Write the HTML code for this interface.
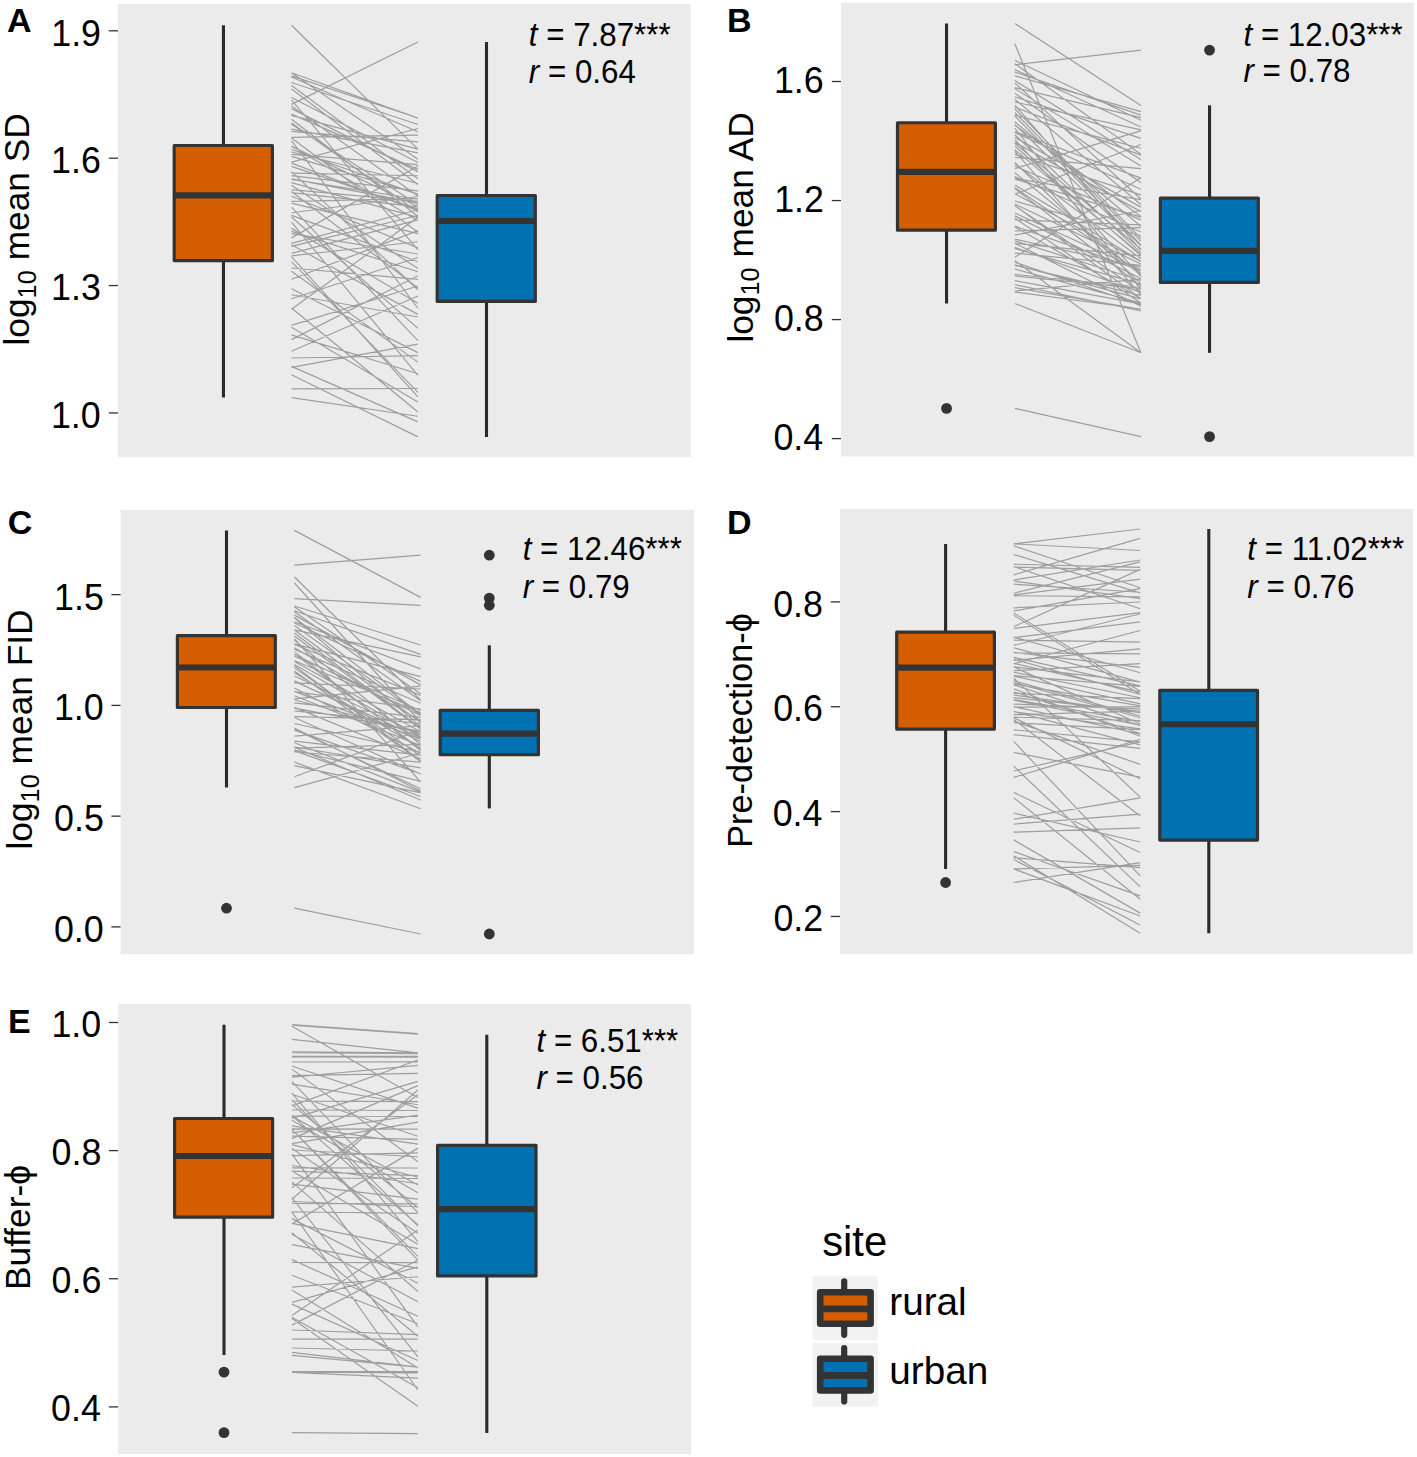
<!DOCTYPE html>
<html><head><meta charset="utf-8"><title>Boxplots</title><style>
html,body{margin:0;padding:0;background:#fff;width:1417px;height:1457px;overflow:hidden}
svg{display:block;position:absolute;left:0;top:0}
text{font-family:"Liberation Sans", sans-serif;fill:#000}
.tk{font-size:35.8px}
.an{font-size:31.3px}
.ti{font-size:35.3px}
.lb{font-size:34.0px;font-weight:bold}
.lg{font-size:38.7px}
.lgt{font-size:41.8px}
</style></head><body>
<svg width="1417" height="1457" viewBox="0 0 1417 1457"><rect x="118" y="4" width="572.8" height="453.2" fill="#EBEBEB"/>
<line x1="108.8" y1="30.8" x2="118" y2="30.8" stroke="#333333" stroke-width="1.3"/>
<text transform="translate(101,45.65) scale(1,1.05)" text-anchor="end" class="tk">1.9</text>
<line x1="108.8" y1="158.2" x2="118" y2="158.2" stroke="#333333" stroke-width="1.3"/>
<text transform="translate(100.87,173.05) scale(1,1.05)" text-anchor="end" class="tk">1.6</text>
<line x1="108.8" y1="285.55" x2="118" y2="285.55" stroke="#333333" stroke-width="1.3"/>
<text transform="translate(100.87,300.4) scale(1,1.05)" text-anchor="end" class="tk">1.3</text>
<line x1="108.8" y1="412.95" x2="118" y2="412.95" stroke="#333333" stroke-width="1.3"/>
<text transform="translate(100.7,427.8) scale(1,1.05)" text-anchor="end" class="tk">1.0</text>
<path d="M291.5 388.92L417.9 388.49M291.5 217.01L417.9 328.34M291.5 185.32L417.9 268.5M291.5 99.8L417.9 249.91M291.5 140.54L417.9 308.25M291.5 271.34L417.9 362.13M291.5 279.27L417.9 230.67M291.5 75.94L417.9 118M291.5 124.32L417.9 204.57M291.5 82.53L417.9 124.54M291.5 72.7L417.9 159.22M291.5 308.04L417.9 411.94M291.5 163.1L417.9 210.75M291.5 156.44L417.9 194.03M291.5 146.04L417.9 220.77M291.5 149.54L417.9 194.34M291.5 189.64L417.9 201.35M291.5 191.56L417.9 287.88M291.5 366.35L417.9 421.84M291.5 233.69L417.9 254M291.5 294.72L417.9 316.98M291.5 196.23L417.9 247.83M291.5 246.44L417.9 215.53M291.5 137.37L417.9 135.06M291.5 119.2L417.9 216.27M291.5 175.7L417.9 190.78M291.5 173.19L417.9 175.77M291.5 201.28L417.9 198.58M291.5 243.38L417.9 209.77M291.5 231.4L417.9 271.73M291.5 253.37L417.9 219.9M291.5 162.07L417.9 128.5M291.5 212.77L417.9 196.5M291.5 137.91L417.9 232.34M291.5 351.3L417.9 296.02M291.5 115.44L417.9 149.12M291.5 298.73L417.9 257.51M291.5 288.79L417.9 352.61M291.5 237.87L417.9 166.02M291.5 261.68L417.9 392.3M291.5 179.29L417.9 199.26M291.5 268.02L417.9 279.4M291.5 327.31L417.9 402.01M291.5 309.25L417.9 217.34M291.5 97.45L417.9 162.54M291.5 207.21L417.9 340.67M291.5 339.65L417.9 275.7M291.5 215.43L417.9 261.71M291.5 374.81L417.9 436.9M291.5 85.41L417.9 178.72M291.5 367.43L417.9 344.18M291.5 151.98L417.9 183.48M291.5 146.39L417.9 206.42M291.5 358L417.9 355.63M291.5 178.8L417.9 203.18M291.5 105.89L417.9 196.01M291.5 154.46L417.9 164.69M291.5 182.7L417.9 217.33M291.5 114.17L417.9 169.34M291.5 192.61L417.9 206.84M291.5 171.66L417.9 289.75M291.5 228.36L417.9 303.24M291.5 131.39L417.9 141.91M291.5 325.43L417.9 286.02M291.5 123.05L417.9 212.11M291.5 255.8L417.9 241.73M291.5 334.82L417.9 373.71M291.5 166.39L417.9 209.18M291.5 89L417.9 184.43M291.5 108.65L417.9 171.59M291.5 256.63L417.9 396.93M291.5 129.14L417.9 152.95M291.5 244.75L417.9 314.36M291.5 222.1L417.9 375.4M291.5 203.06L417.9 233.7M291.5 397.6L417.9 416.25M291.5 25.2L417.9 149.1M291.5 104.4L417.9 42M291.5 72.7L417.9 118.1M291.5 77L417.9 131.8" stroke="#9E9E9E" stroke-width="1.2" fill="none"/>
<line x1="223.45" y1="25.2" x2="223.45" y2="397.6" stroke="#2A2A2A" stroke-width="3.1"/>
<rect x="174.2" y="145.5" width="98.2" height="115.2" fill="#D55E00" stroke="#333333" stroke-width="3.2" stroke-linejoin="round"/>
<line x1="174.2" y1="195.4" x2="272.4" y2="195.4" stroke="#333333" stroke-width="6.1"/>
<line x1="486.5" y1="42" x2="486.5" y2="436.9" stroke="#2A2A2A" stroke-width="3.1"/>
<rect x="437.2" y="195.5" width="98.1" height="105.9" fill="#0072B2" stroke="#333333" stroke-width="3.2" stroke-linejoin="round"/>
<line x1="437.2" y1="221" x2="535.3" y2="221" stroke="#333333" stroke-width="6.1"/>
<text transform="translate(528.8,45.5) scale(1,1.04)" class="an"><tspan font-style="italic">t</tspan> = 7.87***</text>
<text transform="translate(528.8,82.75) scale(1,1.04)" class="an"><tspan font-style="italic">r</tspan> = 0.64</text>
<text transform="translate(29.1,229.35) rotate(-90)" text-anchor="middle" class="ti" style="font-size:35.3px">log<tspan font-size="25.4" dy="6.85">10</tspan><tspan dy="-6.85"> mean SD</tspan></text>
<text x="7.1" y="31.76" class="lb">A</text>
<rect x="841" y="2.7" width="572.9" height="453.8" fill="#EBEBEB"/>
<line x1="831.8" y1="81.5" x2="841" y2="81.5" stroke="#333333" stroke-width="1.3"/>
<text transform="translate(823.67,92.85) scale(1,1.05)" text-anchor="end" class="tk">1.6</text>
<line x1="831.8" y1="200.55" x2="841" y2="200.55" stroke="#333333" stroke-width="1.3"/>
<text transform="translate(823.9,211.9) scale(1,1.05)" text-anchor="end" class="tk">1.2</text>
<line x1="831.8" y1="319.6" x2="841" y2="319.6" stroke="#333333" stroke-width="1.3"/>
<text transform="translate(823.66,330.95) scale(1,1.05)" text-anchor="end" class="tk">0.8</text>
<line x1="831.8" y1="438.6" x2="841" y2="438.6" stroke="#333333" stroke-width="1.3"/>
<text transform="translate(823.15,449.95) scale(1,1.05)" text-anchor="end" class="tk">0.4</text>
<path d="M1014.8 157.24L1140.9 168.61M1014.8 275.92L1140.9 288.69M1014.8 96.77L1140.9 138.36M1014.8 82.86L1140.9 199.03M1014.8 166.21L1140.9 219.88M1014.8 149.79L1140.9 254.41M1014.8 168.58L1140.9 130.88M1014.8 292L1140.9 308.99M1014.8 137.32L1140.9 207.14M1014.8 274.36L1140.9 287.27M1014.8 264.76L1140.9 298.92M1014.8 121.7L1140.9 226.32M1014.8 88.62L1140.9 166.04M1014.8 253.1L1140.9 265.39M1014.8 80.42L1140.9 159.42M1014.8 72.06L1140.9 115.11M1014.8 142.37L1140.9 211.64M1014.8 163.55L1140.9 258.81M1014.8 139.54L1140.9 276.36M1014.8 205.7L1140.9 291.69M1014.8 247.42L1140.9 292.53M1014.8 108.75L1140.9 238.36M1014.8 101.98L1140.9 129.92M1014.8 226.11L1140.9 270.48M1014.8 212.99L1140.9 270.14M1014.8 226.9L1140.9 298.59M1014.8 239.05L1140.9 267.25M1014.8 265.38L1140.9 295.33M1014.8 287.66L1140.9 309.41M1014.8 93.13L1140.9 182.71M1014.8 194.28L1140.9 144.46M1014.8 146.04L1140.9 255.61M1014.8 69.62L1140.9 126.96M1014.8 219.81L1140.9 224.82M1014.8 115.11L1140.9 148.29M1014.8 280.6L1140.9 303.83M1014.8 230.82L1140.9 227.63M1014.8 105.08L1140.9 250.09M1014.8 187.71L1140.9 272.92M1014.8 284.72L1140.9 311M1014.8 291.04L1140.9 279.18M1014.8 125.16L1140.9 216.56M1014.8 257.32L1140.9 177.79M1014.8 107.22L1140.9 155.16M1014.8 132.45L1140.9 189.22M1014.8 188.53L1140.9 285.97M1014.8 162.42L1140.9 283.82M1014.8 99.22L1140.9 204.49M1014.8 154.35L1140.9 194.94M1014.8 262.2L1140.9 305.07M1014.8 128.07L1140.9 289.46M1014.8 200.99L1140.9 235.76M1014.8 179.07L1140.9 217.19M1014.8 115.92L1140.9 244.95M1014.8 131.75L1140.9 178.18M1014.8 87.61L1140.9 117.67M1014.8 178.36L1140.9 199.55M1014.8 218.13L1140.9 303.11M1014.8 193.69L1140.9 261.47M1014.8 124.43L1140.9 245.66M1014.8 243.26L1140.9 255.97M1014.8 203.98L1140.9 263.95M1014.8 243.29L1140.9 306.33M1014.8 240.85L1140.9 280.47M1014.8 176.62L1140.9 231.98M1014.8 60.3L1140.9 120.19M1014.8 205.43L1140.9 298.64M1014.8 134.76L1140.9 252.59M1014.8 143.18L1140.9 248.96M1014.8 172.72L1140.9 275.04M1014.8 151.33L1140.9 294.86M1014.8 63.74L1140.9 154.16M1014.8 185.1L1140.9 261.14M1014.8 75.87L1140.9 111.7M1014.8 112.5L1140.9 241.19M1014.8 248.58L1140.9 284.19M1014.8 235.1L1140.9 210.53M1014.8 215.88L1140.9 278.52M1014.8 268.95L1140.9 303.07M1014.8 23.5L1140.9 105.6M1014.8 64.8L1140.9 50.1M1014.8 408.4L1140.9 436.6M1014.8 303.5L1140.9 352.8M1014.8 260.7L1140.9 352.8M1014.8 43.7L1140.9 352.8" stroke="#9E9E9E" stroke-width="1.2" fill="none"/>
<line x1="946.55" y1="23.5" x2="946.55" y2="303.5" stroke="#2A2A2A" stroke-width="3.1"/>
<rect x="897.5" y="122.75" width="97.9" height="107.45" fill="#D55E00" stroke="#333333" stroke-width="3.2" stroke-linejoin="round"/>
<line x1="897.5" y1="171.9" x2="995.4" y2="171.9" stroke="#333333" stroke-width="6.1"/>
<circle cx="946.55" cy="408.4" r="5.4" fill="#333333"/>
<line x1="1209.55" y1="105.3" x2="1209.55" y2="352.8" stroke="#2A2A2A" stroke-width="3.1"/>
<rect x="1160.4" y="198.1" width="97.9" height="84.3" fill="#0072B2" stroke="#333333" stroke-width="3.2" stroke-linejoin="round"/>
<line x1="1160.4" y1="250.9" x2="1258.3" y2="250.9" stroke="#333333" stroke-width="6.1"/>
<circle cx="1209.55" cy="50.1" r="5.4" fill="#333333"/>
<circle cx="1209.55" cy="436.6" r="5.4" fill="#333333"/>
<text transform="translate(1243.5,45.5) scale(1,1.04)" class="an"><tspan font-style="italic">t</tspan> = 12.03***</text>
<text transform="translate(1243.5,82.3) scale(1,1.04)" class="an"><tspan font-style="italic">r</tspan> = 0.78</text>
<text transform="translate(752.5,227.45) rotate(-90)" text-anchor="middle" class="ti" style="font-size:35.3px">log<tspan font-size="25.4" dy="6.85">10</tspan><tspan dy="-6.85"> mean AD</tspan></text>
<text x="726.9" y="31.76" class="lb">B</text>
<rect x="120.6" y="510" width="573.2" height="444.2" fill="#EBEBEB"/>
<line x1="111.4" y1="594.65" x2="120.6" y2="594.65" stroke="#333333" stroke-width="1.3"/>
<text transform="translate(103.8,609.6) scale(1,1.05)" text-anchor="end" class="tk">1.5</text>
<line x1="111.4" y1="705.4" x2="120.6" y2="705.4" stroke="#333333" stroke-width="1.3"/>
<text transform="translate(103.7,720.35) scale(1,1.05)" text-anchor="end" class="tk">1.0</text>
<line x1="111.4" y1="816.15" x2="120.6" y2="816.15" stroke="#333333" stroke-width="1.3"/>
<text transform="translate(103.8,831.1) scale(1,1.05)" text-anchor="end" class="tk">0.5</text>
<line x1="111.4" y1="926.9" x2="120.6" y2="926.9" stroke="#333333" stroke-width="1.3"/>
<text transform="translate(103.7,941.85) scale(1,1.05)" text-anchor="end" class="tk">0.0</text>
<path d="M294.4 682.93L420.6 689.01M294.4 716.66L420.6 719.53M294.4 615.13L420.6 684.86M294.4 681.38L420.6 737.86M294.4 664.6L420.6 736.91M294.4 717.47L420.6 774.05M294.4 649.08L420.6 703.18M294.4 710.97L420.6 723.53M294.4 699.73L420.6 733.34M294.4 749.96L420.6 781.35M294.4 746.98L420.6 767.81M294.4 651.62L420.6 750.45M294.4 632.92L420.6 728.31M294.4 747.23L420.6 800M294.4 654.5L420.6 715.45M294.4 653.89L420.6 749.27M294.4 606L420.6 645M294.4 730.07L420.6 773.76M294.4 702.96L420.6 717.41M294.4 736.03L420.6 725.54M294.4 629.88L420.6 656.83M294.4 621.74L420.6 668.89M294.4 672.66L420.6 748.36M294.4 611.72L420.6 700.8M294.4 606.64L420.6 693.85M294.4 691.36L420.6 739.18M294.4 643.82L420.6 676.57M294.4 667.88L420.6 755.95M294.4 698.79L420.6 686.07M294.4 688.09L420.6 753.2M294.4 671.01L420.6 761.46M294.4 741.08L420.6 755.13M294.4 660.79L420.6 712.51M294.4 630.02L420.6 722.59M294.4 729.22L420.6 788.77M294.4 691.61L420.6 709.01M294.4 727.95L420.6 790.96M294.4 644.51L420.6 695.43M294.4 661.59L420.6 731.76M294.4 625.44L420.6 715.26M294.4 680.67L420.6 741.44M294.4 742.79L420.6 792.11M294.4 639.92L420.6 744.48M294.4 676.05L420.6 735.22M294.4 617.76L420.6 726.62M294.4 635.9L420.6 729.08M294.4 752L420.6 762.18M294.4 748.1L420.6 744.38M294.4 656.25L420.6 710.44M294.4 708.11L420.6 731.35M294.4 750.58L420.6 796.51M294.4 695.69L420.6 745.64M294.4 617.44L420.6 714.29M294.4 638.57L420.6 782.02M294.4 723.5L420.6 752.13M294.4 647.72L420.6 720.68M294.4 622.96L420.6 681.41M294.4 665.77L420.6 760.75M294.4 610.75L420.6 654.31M294.4 707.43L420.6 758.71M294.4 530.4L420.6 597.4M294.4 565.1L420.6 555.2M294.4 598.6L420.6 605.3M294.4 577L420.6 700M294.4 583L420.6 722M294.4 908.2L420.6 934M294.4 787.6L420.6 753M294.4 776.7L420.6 730M294.4 765.6L420.6 792.8M294.4 762.1L420.6 808.8" stroke="#9E9E9E" stroke-width="1.2" fill="none"/>
<line x1="226.5" y1="530.4" x2="226.5" y2="787.6" stroke="#2A2A2A" stroke-width="3.1"/>
<rect x="177.4" y="635.7" width="97.9" height="71.8" fill="#D55E00" stroke="#333333" stroke-width="3.2" stroke-linejoin="round"/>
<line x1="177.4" y1="667.5" x2="275.3" y2="667.5" stroke="#333333" stroke-width="6.1"/>
<circle cx="226.5" cy="908.2" r="5.4" fill="#333333"/>
<line x1="489.3" y1="645.3" x2="489.3" y2="808.4" stroke="#2A2A2A" stroke-width="3.1"/>
<rect x="440.2" y="710.3" width="98.2" height="44.4" fill="#0072B2" stroke="#333333" stroke-width="3.2" stroke-linejoin="round"/>
<line x1="440.2" y1="733.65" x2="538.4" y2="733.65" stroke="#333333" stroke-width="6.1"/>
<circle cx="489.3" cy="555.2" r="5.4" fill="#333333"/>
<circle cx="489.3" cy="598.1" r="5.4" fill="#333333"/>
<circle cx="489.3" cy="605.3" r="5.4" fill="#333333"/>
<circle cx="489.3" cy="934" r="5.4" fill="#333333"/>
<text transform="translate(522.7,560.3) scale(1,1.04)" class="an"><tspan font-style="italic">t</tspan> = 12.46***</text>
<text transform="translate(522.7,597.7) scale(1,1.04)" class="an"><tspan font-style="italic">r</tspan> = 0.79</text>
<text transform="translate(32.1,729.5) rotate(-90)" text-anchor="middle" class="ti" style="font-size:35.3px">log<tspan font-size="25.4" dy="6.85">10</tspan><tspan dy="-6.85"> mean FID</tspan></text>
<text x="7.8" y="533.6" class="lb">C</text>
<rect x="840" y="509" width="572.9" height="444.9" fill="#EBEBEB"/>
<line x1="830.8" y1="601.9" x2="840" y2="601.9" stroke="#333333" stroke-width="1.3"/>
<text transform="translate(822.96,616.55) scale(1,1.05)" text-anchor="end" class="tk">0.8</text>
<line x1="830.8" y1="706.75" x2="840" y2="706.75" stroke="#333333" stroke-width="1.3"/>
<text transform="translate(822.97,721.4) scale(1,1.05)" text-anchor="end" class="tk">0.6</text>
<line x1="830.8" y1="811.6" x2="840" y2="811.6" stroke="#333333" stroke-width="1.3"/>
<text transform="translate(822.45,826.25) scale(1,1.05)" text-anchor="end" class="tk">0.4</text>
<line x1="830.8" y1="916.45" x2="840" y2="916.45" stroke="#333333" stroke-width="1.3"/>
<text transform="translate(823.2,931.1) scale(1,1.05)" text-anchor="end" class="tk">0.2</text>
<path d="M1013.7 699.52L1140.2 721.31M1013.7 741.35L1140.2 875.92M1013.7 628.51L1140.2 612.58M1013.7 593.27L1140.2 561.89M1013.7 637.72L1140.2 621.86M1013.7 584.2L1140.2 592.23M1013.7 694.96L1140.2 712.69M1013.7 595.75L1140.2 596.88M1013.7 722.73L1140.2 729.63M1013.7 610.95L1140.2 588.71M1013.7 615.22L1140.2 694.41M1013.7 717.21L1140.2 720.69M1013.7 647.73L1140.2 682.2M1013.7 777.34L1140.2 739.26M1013.7 832.14L1140.2 827.88M1013.7 824.11L1140.2 814.17M1013.7 792.5L1140.2 852.44M1013.7 797.63L1140.2 899.21M1013.7 697.67L1140.2 711.62M1013.7 594.91L1140.2 579.19M1013.7 707.06L1140.2 706.79M1013.7 729.8L1140.2 741.95M1013.7 663.39L1140.2 692.05M1013.7 704.1L1140.2 709.16M1013.7 684.82L1140.2 725.66M1013.7 672.25L1140.2 697.72M1013.7 666.98L1140.2 723.95M1013.7 721.21L1140.2 764.31M1013.7 706.63L1140.2 733.99M1013.7 652.45L1140.2 667.33M1013.7 714.68L1140.2 711.14M1013.7 700.06L1140.2 725.23M1013.7 678.04L1140.2 797.08M1013.7 670.67L1140.2 663.67M1013.7 711.72L1140.2 728.93M1013.7 666.88L1140.2 681.91M1013.7 691.7L1140.2 733.47M1013.7 819.29L1140.2 797.89M1013.7 663.76L1140.2 630.46M1013.7 766.16L1140.2 886.85M1013.7 580L1140.2 560M1013.7 680.61L1140.2 715.99M1013.7 711.44L1140.2 744.95M1013.7 657.4L1140.2 685.95M1013.7 626.73L1140.2 569.36M1013.7 612.98L1140.2 691.3M1013.7 676.19L1140.2 703.89M1013.7 640.18L1140.2 642.21M1013.7 660.27L1140.2 648.89M1013.7 684.01L1140.2 705.84M1013.7 857.67L1140.2 867.71M1013.7 688.74L1140.2 736.24M1013.7 868.9L1140.2 916.02M1013.7 770.98L1140.2 741.83M1013.7 637.04L1140.2 672.76M1013.7 682.46L1140.2 717.71M1013.7 693.25L1140.2 698.56M1013.7 752.47L1140.2 777.15M1013.7 734.61L1140.2 748.37M1013.7 719.43L1140.2 815.91M1013.7 851.58L1140.2 895.86M1013.7 859.52L1140.2 925M1013.7 645.32L1140.2 613.75M1013.7 607.78L1140.2 601.98M1013.7 717.62L1140.2 778.83M1013.7 659.26L1140.2 694.46M1013.7 813.04L1140.2 841.99M1013.7 675.64L1140.2 686.37M1013.7 839.86L1140.2 913.12M1013.7 652.88L1140.2 653.88M1013.7 543.9L1140.2 529M1013.7 543.9L1140.2 550.5M1013.7 545.9L1140.2 587.7M1013.7 554.5L1140.2 592.9M1013.7 564.2L1140.2 567.4M1013.7 567L1140.2 570.3M1013.7 574.8L1140.2 538.3M1013.7 566.5L1140.2 608.7M1013.7 581L1140.2 598.6M1013.7 882.5L1140.2 862.6M1013.7 868.9L1140.2 865.3M1013.7 855.8L1140.2 933.3" stroke="#9E9E9E" stroke-width="1.2" fill="none"/>
<line x1="945.6" y1="543.9" x2="945.6" y2="868.9" stroke="#2A2A2A" stroke-width="3.1"/>
<rect x="896.7" y="632.2" width="97.7" height="96.9" fill="#D55E00" stroke="#333333" stroke-width="3.2" stroke-linejoin="round"/>
<line x1="896.7" y1="667.6" x2="994.4" y2="667.6" stroke="#333333" stroke-width="6.1"/>
<circle cx="945.6" cy="882.5" r="5.4" fill="#333333"/>
<line x1="1208.8" y1="529" x2="1208.8" y2="933.3" stroke="#2A2A2A" stroke-width="3.1"/>
<rect x="1159.8" y="690.4" width="97.7" height="149.7" fill="#0072B2" stroke="#333333" stroke-width="3.2" stroke-linejoin="round"/>
<line x1="1159.8" y1="724.3" x2="1257.5" y2="724.3" stroke="#333333" stroke-width="6.1"/>
<text transform="translate(1247.3,560.3) scale(1,1.04)" class="an"><tspan font-style="italic">t</tspan> = 11.02***</text>
<text transform="translate(1247.3,597.7) scale(1,1.04)" class="an"><tspan font-style="italic">r</tspan> = 0.76</text>
<text transform="translate(751.7,730.45) rotate(-90)" text-anchor="middle" class="ti" style="font-size:34.3px">Pre-detection-ϕ</text>
<text x="726.9" y="533.8" class="lb">D</text>
<rect x="118.1" y="1004.2" width="573.1" height="449.8" fill="#EBEBEB"/>
<line x1="108.9" y1="1022.5" x2="118.1" y2="1022.5" stroke="#333333" stroke-width="1.3"/>
<text transform="translate(101.2,1036.8) scale(1,1.05)" text-anchor="end" class="tk">1.0</text>
<line x1="108.9" y1="1150.6" x2="118.1" y2="1150.6" stroke="#333333" stroke-width="1.3"/>
<text transform="translate(101.36,1164.9) scale(1,1.05)" text-anchor="end" class="tk">0.8</text>
<line x1="108.9" y1="1278.75" x2="118.1" y2="1278.75" stroke="#333333" stroke-width="1.3"/>
<text transform="translate(101.37,1293.05) scale(1,1.05)" text-anchor="end" class="tk">0.6</text>
<line x1="108.9" y1="1406.9" x2="118.1" y2="1406.9" stroke="#333333" stroke-width="1.3"/>
<text transform="translate(100.85,1421.2) scale(1,1.05)" text-anchor="end" class="tk">0.4</text>
<path d="M291.9 1259.67L417.9 1316.22M291.9 1262.49L417.9 1262.72M291.9 1069.11L417.9 1161.77M291.9 1125.92L417.9 1144.17M291.9 1234.31L417.9 1301.8M291.9 1075.66L417.9 1073.29M291.9 1177.99L417.9 1178.5M291.9 1232.73L417.9 1336.29M291.9 1224.03L417.9 1148.13M291.9 1212.05L417.9 1390M291.9 1129.32L417.9 1256.45M291.9 1150.01L417.9 1156.75M291.9 1136.08L417.9 1139.46M291.9 1199.3L417.9 1089.96M291.9 1120.28L417.9 1192.67M291.9 1223.3L417.9 1248.55M291.9 1132.92L417.9 1115.15M291.9 1275.22L417.9 1323.81M291.9 1084.13L417.9 1104.72M291.9 1115.64L417.9 1224.72M291.9 1170.99L417.9 1244.32M291.9 1143.65L417.9 1122.15M291.9 1211.76L417.9 1213.38M291.9 1181.88L417.9 1291.47M291.9 1138.6L417.9 1085.65M291.9 1093.02L417.9 1241.71M291.9 1325.1L417.9 1260.06M291.9 1171.18L417.9 1175.58M291.9 1104.63L417.9 1207.73M291.9 1290.1L417.9 1368.01M291.9 1304.09L417.9 1360.5M291.9 1094.26L417.9 1136.22M291.9 1187.74L417.9 1094.71M291.9 1066.03L417.9 1108.11M291.9 1101.05L417.9 1101.57M291.9 1148.59L417.9 1233.35M291.9 1154.12L417.9 1326.83M291.9 1155.67L417.9 1152.91M291.9 1165.49L417.9 1183.77M291.9 1184.2L417.9 1199.15M291.9 1317.15L417.9 1387.84M291.9 1197.74L417.9 1356.76M291.9 1129.43L417.9 1260.1M291.9 1244.56L417.9 1268.44M291.9 1287.16L417.9 1276.76M291.9 1218.6L417.9 1283.29M291.9 1077.23L417.9 1065.39M291.9 1081.66L417.9 1212.63M291.9 1118.45L417.9 1081.35M291.9 1201.48L417.9 1206.74M291.9 1099.81L417.9 1225.93M291.9 1330L417.9 1334.63M291.9 1105.82L417.9 1060M291.9 1144.63L417.9 1177.23M291.9 1062L417.9 1061.96M291.9 1116.39L417.9 1184.98M291.9 1024.7L417.9 1033.7M291.9 1025.2L417.9 1034.2M291.9 1026.3L417.9 1097.6M291.9 1039.4L417.9 1052.9M291.9 1051.8L417.9 1052.9M291.9 1052.6L417.9 1053.6M291.9 1056.3L417.9 1056.3M291.9 1056.9L417.9 1057.1M291.9 1432.6L417.9 1433.7M291.9 1371.6L417.9 1371.6M291.9 1372.1L417.9 1372.9M291.9 1372.4L417.9 1378.2M291.9 1339.1L417.9 1339.1M291.9 1348L417.9 1351M291.9 1318.5L417.9 1406.3M291.9 1315.5L417.9 1230M291.9 1302.3L417.9 1266.9M291.9 1352.4L417.9 1367.2M291.9 1355.4L417.9 1367.2M291.9 1110L417.9 1110.5M291.9 1116L417.9 1116.5M291.9 1128.9L417.9 1129.2M291.9 1167.8L417.9 1168M291.9 1203.5L417.9 1203.8" stroke="#9E9E9E" stroke-width="1.2" fill="none"/>
<line x1="224" y1="1024.7" x2="224" y2="1355.1" stroke="#2A2A2A" stroke-width="3.1"/>
<rect x="174.6" y="1118.5" width="98" height="98.7" fill="#D55E00" stroke="#333333" stroke-width="3.2" stroke-linejoin="round"/>
<line x1="174.6" y1="1156.05" x2="272.6" y2="1156.05" stroke="#333333" stroke-width="6.1"/>
<circle cx="224" cy="1372.1" r="5.4" fill="#333333"/>
<circle cx="224" cy="1432.6" r="5.4" fill="#333333"/>
<line x1="486.8" y1="1034.8" x2="486.8" y2="1433" stroke="#2A2A2A" stroke-width="3.1"/>
<rect x="437.6" y="1145.3" width="98.4" height="130.6" fill="#0072B2" stroke="#333333" stroke-width="3.2" stroke-linejoin="round"/>
<line x1="437.6" y1="1209.1" x2="536" y2="1209.1" stroke="#333333" stroke-width="6.1"/>
<text transform="translate(536.5,1051.6) scale(1,1.04)" class="an"><tspan font-style="italic">t</tspan> = 6.51***</text>
<text transform="translate(536.5,1088.7) scale(1,1.04)" class="an"><tspan font-style="italic">r</tspan> = 0.56</text>
<text transform="translate(29.6,1227.5) rotate(-90)" text-anchor="middle" class="ti" style="font-size:35.3px">Buffer-ϕ</text>
<text x="7.9" y="1032.8" class="lb">E</text>
<text x="822.2" y="1256" class="lgt">site</text>
<rect x="812.7" y="1276.2" width="65.2" height="64" fill="#F2F2F2"/>
<line x1="844.2" y1="1281.4" x2="844.2" y2="1334.8" stroke="#333333" stroke-width="6.2" stroke-linecap="round"/>
<rect x="820.2" y="1292.2" width="50.4" height="31.6" fill="#D55E00" stroke="#333333" stroke-width="6.6" stroke-linejoin="round"/>
<line x1="822" y1="1308.9" x2="868.8" y2="1308.9" stroke="#333333" stroke-width="6.8"/>
<text x="889.3" y="1314.7" class="lg">rural</text>
<rect x="812.7" y="1342.8" width="65.2" height="64" fill="#F2F2F2"/>
<line x1="844.2" y1="1348" x2="844.2" y2="1401.4" stroke="#333333" stroke-width="6.2" stroke-linecap="round"/>
<rect x="820.2" y="1358.8" width="50.4" height="31.6" fill="#0072B2" stroke="#333333" stroke-width="6.6" stroke-linejoin="round"/>
<line x1="822" y1="1375.5" x2="868.8" y2="1375.5" stroke="#333333" stroke-width="6.8"/>
<text x="889.3" y="1383.8" class="lg">urban</text></svg>
</body></html>
